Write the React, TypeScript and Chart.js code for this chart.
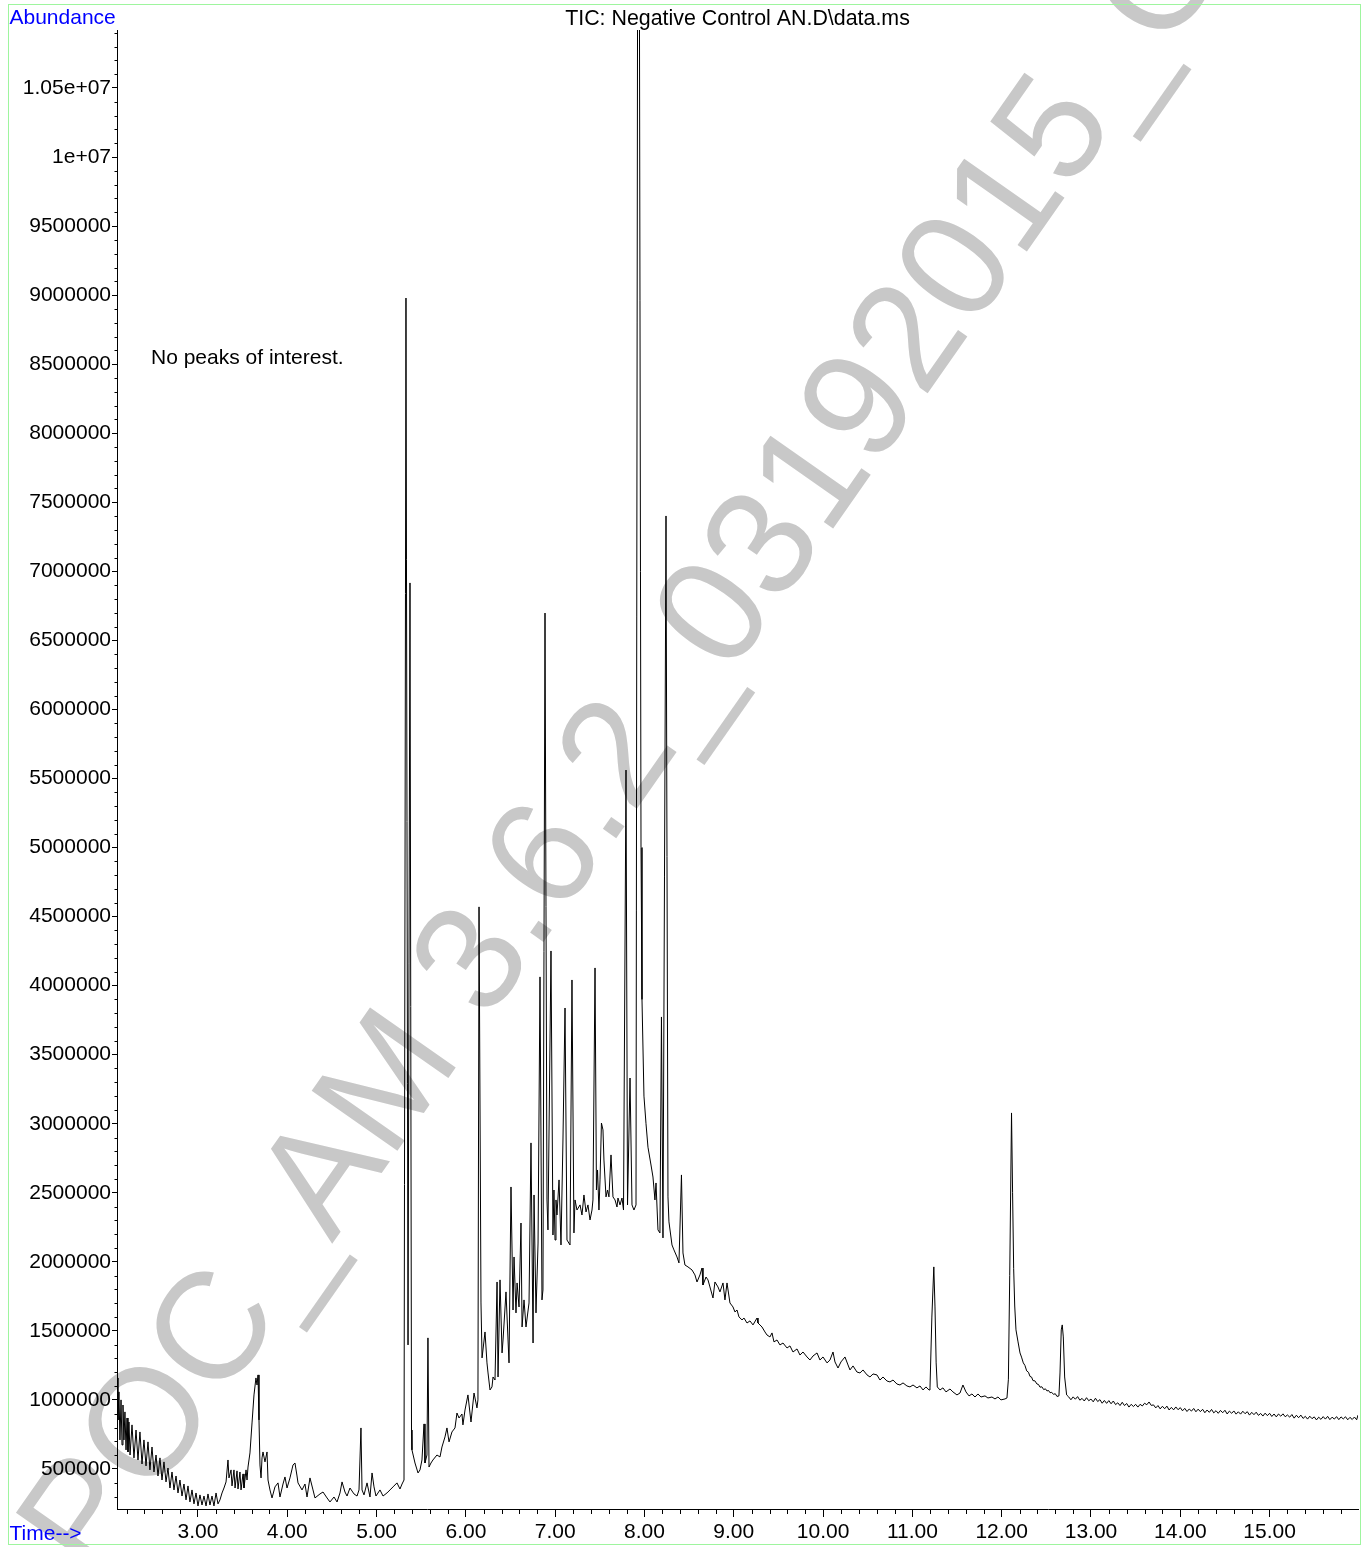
import React, { useEffect, useRef } from "react";
import { Chart, registerables } from "chart.js";

Chart.register(...registerables);

const chartTitle = "TIC: Negative Control AN.D\\data.ms";
const yAxisTitle = "Abundance";
const xAxisTitle = "Time-->";
const noteText = "No peaks of interest.";
const watermarkText = "POC_AM 3.6.2_03192015_C";

const xTickValues = [3, 4, 5, 6, 7, 8, 9, 10, 11, 12, 13, 14, 15];
const xTickLabels = ["3.00", "4.00", "5.00", "6.00", "7.00", "8.00", "9.00", "10.00", "11.00", "12.00", "13.00", "14.00", "15.00"];
const yTickValues = [500000, 1000000, 1500000, 2000000, 2500000, 3000000, 3500000, 4000000, 4500000, 5000000, 5500000, 6000000, 6500000, 7000000, 7500000, 8000000, 8500000, 9000000, 9500000, 10000000, 10500000];
const yTickLabels = ["500000", "1000000", "1500000", "2000000", "2500000", "3000000", "3500000", "4000000", "4500000", "5000000", "5500000", "6000000", "6500000", "7000000", "7500000", "8000000", "8500000", "9000000", "9500000", "1e+07", "1.05e+07"];

const X_MIN = 2.093;
const X_MAX = 15.99;
const Y_MIN = 210000;
const Y_MAX = 10920000;

// [retention time (min), abundance (thousands)]
const earlyRegion: [number, number][] = [
  [2.093, 1159], [2.104, 855], [2.115, 1058], [2.126, 710], [2.138, 1000], [2.149, 674], [2.160, 963], [2.171, 710],
  [2.182, 913], [2.194, 638], [2.205, 869], [2.216, 623], [2.227, 840], [2.239, 601], [2.261, 819], [2.283, 580],
  [2.306, 782], [2.328, 565], [2.350, 768], [2.373, 536], [2.395, 710], [2.418, 522], [2.440, 696], [2.462, 493],
  [2.485, 659], [2.507, 478], [2.530, 601], [2.552, 449], [2.574, 580], [2.597, 420], [2.619, 551], [2.642, 406],
  [2.664, 507], [2.686, 362], [2.709, 478], [2.731, 348], [2.754, 449], [2.776, 326], [2.798, 420], [2.821, 304],
  [2.843, 391], [2.866, 276], [2.888, 377], [2.910, 261], [2.933, 348], [2.955, 247], [2.978, 326], [3.000, 232],
  [3.022, 312], [3.045, 239], [3.067, 304], [3.090, 232], [3.112, 319], [3.134, 239], [3.157, 304], [3.179, 232],
  [3.202, 326], [3.224, 247],
];

const lowRegion: [number, number][] = [
  [3.246, 276], [3.269, 326], [3.291, 362], [3.314, 406], [3.336, 565], [3.347, 435], [3.370, 493], [3.381, 377],
  [3.403, 493], [3.415, 362], [3.437, 486], [3.448, 355], [3.470, 478], [3.482, 348], [3.504, 464], [3.515, 362],
  [3.538, 493], [3.549, 420], [3.560, 514], [3.582, 616], [3.605, 833], [3.627, 1036], [3.649, 1159], [3.661, 1108],
  [3.672, 1181], [3.683, 855], [3.694, 529], [3.706, 435], [3.717, 580], [3.728, 623], [3.750, 551], [3.773, 623],
  [3.784, 420], [3.806, 348], [3.829, 290], [3.862, 370], [3.896, 399], [3.918, 297], [3.952, 391], [3.974, 442],
  [3.997, 362], [4.030, 435], [4.064, 529], [4.086, 543], [4.109, 449], [4.120, 399], [4.165, 348], [4.198, 391],
  [4.221, 297], [4.254, 435], [4.288, 348], [4.310, 290], [4.366, 319], [4.400, 333], [4.445, 290], [4.478, 261],
  [4.523, 297], [4.557, 261], [4.590, 326], [4.613, 406], [4.646, 333], [4.669, 304], [4.702, 362], [4.747, 319],
  [4.781, 304], [4.803, 348], [4.825, 797], [4.837, 348], [4.859, 312], [4.893, 399], [4.926, 297], [4.949, 471],
  [4.971, 370], [4.993, 304], [5.038, 348], [5.072, 304], [5.116, 326], [5.150, 348], [5.184, 370], [5.228, 399],
  [5.262, 355], [5.285, 391], [5.307, 420],
];

const peakRegion: [number, number][] = [
  [5.329, 8979], [5.352, 1398], [5.374, 6916], [5.391, 782], [5.396, 638], [5.430, 543], [5.464, 471], [5.486, 493],
  [5.508, 565], [5.531, 826], [5.542, 543], [5.564, 601], [5.575, 1449], [5.587, 514], [5.609, 543], [5.631, 565],
  [5.676, 601], [5.710, 587], [5.732, 659], [5.766, 732], [5.788, 797], [5.811, 696], [5.844, 768], [5.878, 797],
  [5.900, 905], [5.923, 869], [5.956, 898], [5.967, 819], [5.990, 927], [6.023, 1036], [6.057, 840], [6.091, 1050],
  [6.124, 942], [6.135, 1000], [6.147, 4570], [6.169, 1702], [6.181, 1304], [6.214, 1492], [6.236, 1268], [6.248, 1195],
  [6.270, 1072], [6.292, 1094], [6.304, 1166], [6.326, 1144], [6.349, 1854], [6.360, 1166], [6.382, 1869], [6.405, 1340],
  [6.416, 1434], [6.449, 1782], [6.472, 1434], [6.483, 1268], [6.505, 2542], [6.528, 1651], [6.539, 2035], [6.561, 1630],
  [6.573, 1847], [6.595, 1673], [6.617, 2281], [6.629, 1528], [6.651, 1724], [6.673, 1528], [6.707, 1702], [6.729, 2861],
  [6.752, 1412], [6.763, 2484], [6.785, 1630], [6.808, 2136], [6.830, 4063], [6.852, 1724], [6.863, 1796], [6.886, 6698],
  [6.908, 2448], [6.919, 2231], [6.953, 4251], [6.975, 2194], [6.986, 2520], [6.998, 2158], [7.009, 2448], [7.020, 2339],
  [7.043, 2593], [7.065, 2122], [7.087, 2882], [7.110, 3838], [7.132, 2158], [7.166, 2122], [7.188, 4041], [7.210, 2209],
  [7.222, 2448], [7.244, 2375], [7.278, 2412], [7.300, 2339], [7.322, 2484], [7.345, 2361], [7.367, 2412], [7.390, 2303],
  [7.412, 2375], [7.423, 2448], [7.446, 4128], [7.462, 2520], [7.474, 2665], [7.490, 2375], [7.502, 2593], [7.518, 3005],
  [7.535, 2955], [7.546, 2737], [7.569, 2470], [7.586, 2520], [7.602, 2470], [7.625, 2774], [7.647, 2470], [7.670, 2448],
  [7.692, 2397], [7.703, 2462], [7.726, 2412], [7.748, 2462], [7.765, 2375], [7.793, 5561], [7.810, 2412], [7.838, 3331],
  [7.860, 2412], [7.882, 2375], [7.905, 2412], [7.922, 10950], [7.944, 10950], [7.955, 7000], [7.961, 5000], [7.972, 3900],
  [7.994, 3200], [8.017, 3000], [8.039, 2830], [8.073, 2701], [8.095, 2614], [8.117, 2448], [8.129, 2571], [8.151, 2231],
  [8.173, 2209], [8.190, 3773], [8.207, 2173], [8.241, 7401], [8.263, 2470], [8.274, 2289], [8.308, 2122], [8.330, 2086],
  [8.364, 2035], [8.386, 1992], [8.414, 2629], [8.431, 2064], [8.453, 1977], [8.487, 1963],
];

const tailRegion: [number, number][] = [
  [8.532, 1941], [8.565, 1905], [8.588, 1854], [8.621, 1905], [8.644, 1955], [8.655, 1832], [8.689, 1890], [8.711, 1869],
  [8.733, 1818], [8.767, 1738], [8.789, 1854], [8.823, 1818], [8.845, 1782], [8.879, 1847], [8.901, 1724], [8.924, 1847],
  [8.957, 1702], [8.991, 1673], [9.013, 1637], [9.036, 1651], [9.058, 1601], [9.092, 1579], [9.114, 1593], [9.148, 1557],
  [9.181, 1572], [9.215, 1543], [9.260, 1593], [9.271, 1557], [9.316, 1528], [9.349, 1492], [9.372, 1470], [9.405, 1456],
  [9.428, 1485], [9.450, 1420], [9.484, 1434], [9.517, 1398], [9.551, 1412], [9.596, 1376], [9.629, 1391], [9.663, 1347],
  [9.708, 1369], [9.741, 1325], [9.775, 1347], [9.820, 1311], [9.853, 1289], [9.887, 1318], [9.932, 1340], [9.965, 1289],
  [9.999, 1311], [10.044, 1268], [10.077, 1289], [10.111, 1347], [10.133, 1275], [10.167, 1231], [10.200, 1275], [10.245, 1311],
  [10.279, 1253], [10.301, 1217], [10.335, 1246], [10.379, 1202], [10.413, 1195], [10.447, 1217], [10.492, 1181], [10.525, 1166],
  [10.559, 1188], [10.603, 1181], [10.637, 1144], [10.671, 1166], [10.715, 1137], [10.749, 1130], [10.783, 1144], [10.827, 1115],
  [10.861, 1108], [10.895, 1123], [10.939, 1101], [10.973, 1094], [11.007, 1108], [11.051, 1087], [11.085, 1101], [11.119, 1072],
  [11.152, 1094], [11.186, 1072], [11.197, 1087], [11.218, 1600], [11.240, 1963], [11.253, 1673], [11.266, 1268], [11.279, 1094],
  [11.309, 1072], [11.342, 1087], [11.376, 1058], [11.421, 1079], [11.454, 1058], [11.499, 1036], [11.533, 1050], [11.566, 1108],
  [11.600, 1058], [11.634, 1029], [11.667, 1043], [11.701, 1021], [11.734, 1043], [11.768, 1021], [11.813, 1029], [11.846, 1014],
  [11.891, 1021], [11.925, 1007], [11.958, 1021], [11.992, 1000], [12.037, 1007], [12.059, 1014],
];

const latePeaksRegion: [number, number][] = [
  [12.075, 1150], [12.090, 1900], [12.110, 3078], [12.122, 2500], [12.134, 1950], [12.146, 1680], [12.160, 1507], [12.183, 1420],
  [12.205, 1340], [12.222, 1310], [12.242, 1268], [12.260, 1250], [12.280, 1210], [12.300, 1200], [12.317, 1170], [12.335, 1165],
  [12.350, 1140], [12.372, 1138], [12.395, 1115], [12.412, 1112], [12.429, 1092], [12.450, 1095], [12.470, 1075], [12.490, 1080],
  [12.507, 1065], [12.525, 1068], [12.541, 1052], [12.560, 1055], [12.580, 1040], [12.600, 1045], [12.619, 1025], [12.641, 1029],
  [12.653, 1195], [12.667, 1507], [12.678, 1543], [12.690, 1456], [12.705, 1166], [12.727, 1036],
];

const baselineEndRegion: [number, number][] = [
  [12.750, 1022], [12.775, 1001], [12.800, 1022], [12.825, 1005], [12.850, 1024], [12.875, 998], [12.900, 1011], [12.925, 992],
  [12.950, 1016], [12.975, 994], [13.000, 1006], [13.025, 986], [13.050, 1012], [13.075, 988], [13.100, 1002], [13.125, 976],
  [13.150, 996], [13.175, 975], [13.200, 995], [13.225, 972], [13.250, 992], [13.275, 966], [13.300, 979], [13.325, 959],
  [13.350, 983], [13.375, 959], [13.400, 974], [13.425, 948], [13.450, 968], [13.475, 952], [13.500, 968], [13.525, 948],
  [13.550, 968], [13.575, 956], [13.600, 976], [13.625, 965], [13.650, 985], [13.675, 960], [13.700, 964], [13.725, 942],
  [13.750, 959], [13.775, 935], [13.800, 954], [13.825, 936], [13.850, 955], [13.875, 927], [13.900, 946], [13.925, 928],
  [13.950, 949], [13.975, 929], [14.000, 944], [14.025, 921], [14.050, 939], [14.075, 916], [14.100, 934], [14.125, 919],
  [14.150, 938], [14.175, 914], [14.200, 933], [14.225, 915], [14.250, 932], [14.275, 907], [14.300, 927], [14.325, 910],
  [14.350, 931], [14.375, 906], [14.400, 922], [14.425, 903], [14.450, 924], [14.475, 907], [14.500, 925], [14.525, 898],
  [14.550, 919], [14.575, 903], [14.600, 920], [14.625, 897], [14.650, 914], [14.675, 897], [14.700, 918], [14.725, 900],
  [14.750, 915], [14.775, 890], [14.800, 910], [14.825, 893], [14.850, 911], [14.875, 888], [14.900, 902], [14.925, 883],
  [14.950, 904], [14.975, 886], [15.000, 903], [15.025, 880], [15.050, 898], [15.075, 877], [15.100, 898], [15.125, 882],
  [15.150, 899], [15.175, 878], [15.200, 891], [15.225, 875], [15.250, 894], [15.275, 868], [15.300, 889], [15.325, 871],
  [15.350, 890], [15.375, 866], [15.400, 881], [15.425, 861], [15.450, 882], [15.475, 864], [15.500, 877], [15.525, 855],
  [15.550, 875], [15.575, 859], [15.600, 879], [15.625, 861], [15.650, 881], [15.675, 857], [15.700, 875], [15.725, 861],
  [15.750, 879], [15.775, 857], [15.800, 877], [15.825, 862], [15.850, 878], [15.875, 856], [15.900, 874], [15.925, 858],
  [15.950, 876], [15.975, 856], [15.990, 890],
];

const FONT = "'Liberation Sans', Arial, Helvetica, sans-serif";

const decorPlugin = {
  id: "decor",
  beforeDraw(chart: any) {
    const ctx = chart.ctx as CanvasRenderingContext2D;
    ctx.save();
    ctx.fillStyle = "#ffffff";
    ctx.fillRect(0, 0, chart.width, chart.height);
    ctx.translate(94.6, 1583);
    ctx.rotate((-55 * Math.PI) / 180);
    ctx.font = `152px ${FONT}`;
    ctx.fillStyle = "#c8c8c8";
    ctx.textAlign = "left";
    ctx.textBaseline = "alphabetic";
    ctx.fillText(watermarkText, 0, 0);
    ctx.restore();
  },
  afterDraw(chart: any) {
    const ctx = chart.ctx as CanvasRenderingContext2D;
    const xs = chart.scales.x;
    const ys = chart.scales.y;
    const area = chart.chartArea;
    ctx.save();
    ctx.strokeStyle = "#000";
    ctx.lineWidth = 1;
    ctx.beginPath();
    for (let k = 3; k <= 109; k++) {
      if (k % 5 === 0) continue;
      const y = Math.round(ys.getPixelForValue(k * 100000)) + 0.5;
      ctx.moveTo(area.left - 2.5, y);
      ctx.lineTo(area.left, y);
    }
    for (let k = 11; k <= 79; k++) {
      if (k % 5 === 0) continue;
      const x = Math.round(xs.getPixelForValue(k * 0.2)) + 0.5;
      ctx.moveTo(x, area.bottom);
      ctx.lineTo(x, area.bottom + 5);
    }
    ctx.stroke();

    ctx.textBaseline = "alphabetic";
    ctx.fillStyle = "#000";
    ctx.textAlign = "center";
    ctx.font = `21.4px ${FONT}`;
    ctx.fillText(chartTitle, (area.left + area.right) / 2, 25);
    ctx.font = `21px ${FONT}`;
    ctx.textAlign = "left";
    ctx.fillText(noteText, 151, 364);
    ctx.fillStyle = "#0000ff";
    ctx.fillText(yAxisTitle, 9.5, 24);
    ctx.fillText(xAxisTitle, 9.5, 1539.5);

    ctx.strokeStyle = "#9ef59e";
    ctx.lineWidth = 1;
    ctx.strokeRect(8.5, 4.5, 1360.5 - 8.5, 1544.5 - 4.5);
    ctx.restore();
  },
};

export default function App() {
  const ref = useRef<HTMLCanvasElement>(null);
  useEffect(() => {
    document.body.style.margin = "0";
    const canvas = ref.current;
    if (!canvas) return;
    const points = [
      ...earlyRegion,
      ...lowRegion,
      ...peakRegion,
      ...tailRegion,
      ...latePeaksRegion,
      ...baselineEndRegion,
    ].map(([t, a]) => ({ x: t, y: a * 1000 }));
    const chart = new Chart(canvas, {
      type: "line",
      data: {
        datasets: [
          {
            label: "TIC",
            data: points,
            borderColor: "#000000",
            borderWidth: 1,
            pointRadius: 0,
            tension: 0,
            fill: false,
          },
        ],
      },
      options: {
        responsive: false,
        animation: false,
        devicePixelRatio: 1,
        parsing: false,
        layout: { autoPadding: false, padding: { top: 30, right: 14, bottom: 0, left: 0 } },
        plugins: { legend: { display: false }, tooltip: { enabled: false }, title: { display: false } },
        scales: {
          x: {
            type: "linear",
            min: X_MIN,
            max: X_MAX,
            afterFit: (s: any) => {
              s.height = 38;
            },
            afterBuildTicks: (s: any) => {
              s.ticks = xTickValues.map((v) => ({ value: v }));
            },
            ticks: {
              autoSkip: false,
              maxRotation: 0,
              padding: 3,
              color: "#000",
              font: { family: FONT, size: 21 },
              callback: (v: any) => xTickLabels[xTickValues.indexOf(Number(v))] ?? "",
            },
            grid: { display: true, drawOnChartArea: false, drawTicks: true, tickLength: 8, color: "#000", lineWidth: 1 },
            border: { display: true, color: "#000", width: 1 },
          },
          y: {
            type: "linear",
            min: Y_MIN,
            max: Y_MAX,
            afterFit: (s: any) => {
              s.width = 117;
            },
            afterBuildTicks: (s: any) => {
              s.ticks = yTickValues.map((v) => ({ value: v }));
            },
            ticks: {
              autoSkip: false,
              padding: 1,
              color: "#000",
              font: { family: FONT, size: 21 },
              callback: (v: any) => yTickLabels[yTickValues.indexOf(Number(v))] ?? "",
            },
            grid: { display: true, drawOnChartArea: false, drawTicks: true, tickLength: 5, color: "#000", lineWidth: 1 },
            border: { display: true, color: "#000", width: 1 },
          },
        },
      },
      plugins: [decorPlugin],
    } as any);
    return () => chart.destroy();
  }, []);
  return (
    <canvas
      ref={ref}
      width={1372}
      height={1547}
      style={{ position: "absolute", left: 0, top: 0, width: 1372, height: 1547 }}
    />
  );
}
